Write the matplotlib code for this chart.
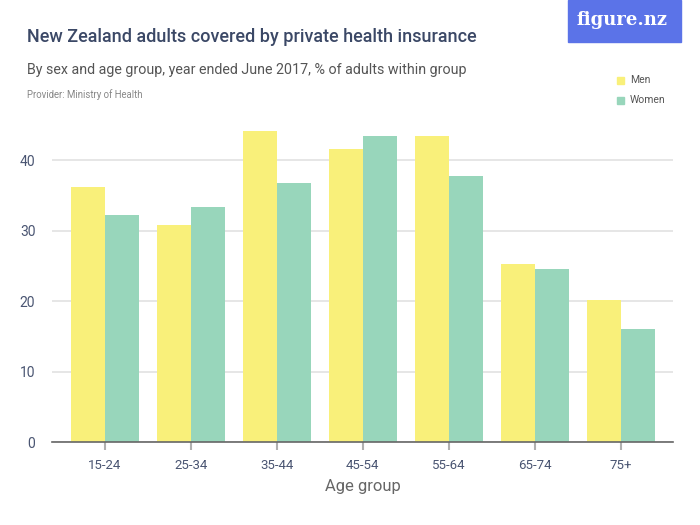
import matplotlib
matplotlib.use("Agg")
import matplotlib.pyplot as plt
import numpy as np
from matplotlib.patches import Rectangle

categories = ["15-24", "25-34", "35-44", "45-54", "55-64", "65-74", "75+"]
men = [36.2, 30.8, 44.2, 41.6, 43.4, 25.3, 20.1]
women = [32.2, 33.3, 36.8, 43.4, 37.8, 24.6, 16.1]
yticks = [0, 10, 20, 30, 40]

plt.rcParams['font.family'] = ['Roboto', 'DejaVu Sans']

fig = plt.figure(figsize=(7, 5.25), dpi=100)
W, H = 700, 525
ax = fig.add_axes([52 / W, 1 - 442 / H, (673 - 52) / W, (442 - 125) / H])

x = np.arange(len(categories))
bw = 0.395
ax.bar(x - bw / 2, men, width=bw, color="#f9f07a", zorder=3, linewidth=0)
ax.bar(x + bw / 2, women, width=bw, color="#98d6bb", zorder=3, linewidth=0)

ax.set_xlim(-0.615, len(categories) - 1 + 0.608)
ax.set_ylim(0, 45)
ax.set_yticks(yticks)
ax.set_xticks(x)
ax.set_xticklabels(categories)
ax.grid(axis="y", color="#e2e2e2", linewidth=1.2, zorder=0)
for s in ["top", "right", "left"]:
    ax.spines[s].set_visible(False)
ax.spines["bottom"].set_color("#666666")
ax.spines["bottom"].set_linewidth(1.2)
ax.spines["bottom"].set_zorder(4)
ax.tick_params(axis="y", length=0, pad=12, labelsize=10, labelcolor="#4a5572")
ax.tick_params(axis="x", length=6, width=1.5, color="#b0b0b0", pad=6,
               labelsize=9.5, labelcolor="#4a5572")
ax.set_xlabel("Age group", fontsize=12, color="#666666", labelpad=5)

fig.text(27 / W, 1 - 37 / H, "New Zealand adults covered by private health insurance",
         fontsize=13, fontweight="medium", color="#3b4866", va="center", ha="left")
fig.text(27 / W, 1 - 70 / H, "By sex and age group, year ended June 2017, % of adults within group",
         fontsize=10.3, color="#555555", va="center", ha="left")
fig.text(27 / W, 1 - 95 / H, "Provider: Ministry of Health",
         fontsize=6.9, color="#888888", va="center", ha="left")

# logo
fig.patches.append(Rectangle((568 / W, 1 - 42 / H), 113 / W, 42 / H,
                             transform=fig.transFigure, color="#5b73e8", zorder=0))
fig.text(622 / W, 1 - 20 / H, "figure.nz", fontsize=13, fontweight="bold", color="white",
         family=["DejaVu Serif"], va="center", ha="center")

# legend
for i, (lab, col) in enumerate([("Men", "#f9f07a"), ("Women", "#98d6bb")]):
    yy = 80 + 20 * i
    fig.patches.append(Rectangle((617 / W, 1 - (yy + 4) / H), 7 / W, 7 / H,
                                 transform=fig.transFigure, color=col))
    fig.text(630 / W, 1 - yy / H, lab, fontsize=7.5, color="#555555", va="center", ha="left")

fig.savefig("out.png", dpi=100)
